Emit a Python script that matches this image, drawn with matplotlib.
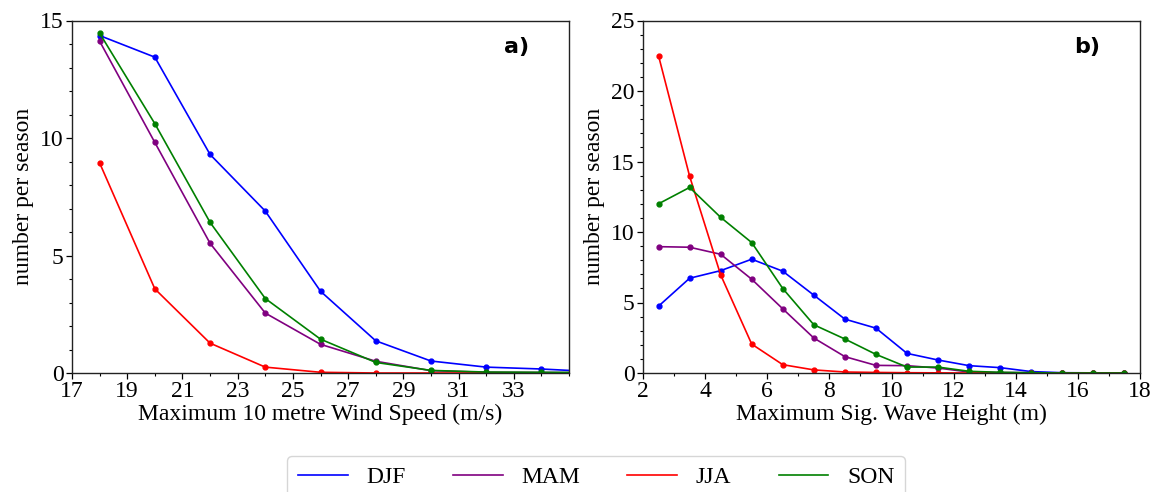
import numpy as np
import matplotlib
matplotlib.use("Agg")
import matplotlib.pyplot as plt
from matplotlib.ticker import MultipleLocator

# Panel a: maximum 10 m wind speed (m/s)
wind_x = [18, 20, 22, 24, 26, 28, 30, 32, 34, 36]
wind_djf = [14.36, 13.44, 9.30, 6.89, 3.48, 1.37, 0.51, 0.25, 0.17, 0.05]
wind_mam = [14.12, 9.81, 5.52, 2.55, 1.22, 0.50, 0.10, 0.03, 0.02, 0.01]
wind_jja = [8.94, 3.58, 1.27, 0.25, 0.03, 0.0, 0.0, 0.0, 0.0, 0.0]
wind_son = [14.46, 10.61, 6.41, 3.17, 1.44, 0.45, 0.11, 0.04, 0.03, 0.02]

# Panel b: maximum significant wave height (m)
wave_x = [2.5, 3.5, 4.5, 5.5, 6.5, 7.5, 8.5, 9.5, 10.5, 11.5, 12.5, 13.5, 14.5, 15.5, 16.5, 17.5]
wave_djf = [4.74, 6.72, 7.26, 8.07, 7.22, 5.52, 3.82, 3.18, 1.39, 0.92, 0.52, 0.38, 0.10, 0.02, 0.01, 0.01]
wave_mam = [8.96, 8.92, 8.42, 6.65, 4.55, 2.48, 1.16, 0.54, 0.52, 0.35, 0.07, 0.03, 0.02, 0.0, 0.0, 0.0]
wave_jja = [22.5, 13.96, 6.96, 2.05, 0.59, 0.22, 0.07, 0.04, 0.02, 0.01, 0.0, 0.0, 0.0, 0.0, 0.0, 0.0]
wave_son = [12.0, 13.16, 11.04, 9.25, 5.99, 3.42, 2.41, 1.32, 0.42, 0.42, 0.12, 0.05, 0.02, 0.0, 0.0, 0.0]

seasons = ["DJF", "MAM", "JJA", "SON"]
colors = ["#0000ff", "#800080", "#ff0000", "#008000"]

plt.rcParams["font.family"] = ["Liberation Serif", "DejaVu Serif"]
plt.rcParams["font.size"] = 17

fig = plt.figure(figsize=(11.51, 4.92), dpi=100)
ax_a = fig.add_axes([72 / 1151, 1 - 373 / 492, (569 - 72) / 1151, (373 - 20.5) / 492])
ax_b = fig.add_axes([643 / 1151, 1 - 373 / 492, (1140 - 643) / 1151, (373 - 20.5) / 492])

panels = [
    (ax_a, wind_x, [wind_djf, wind_mam, wind_jja, wind_son]),
    (ax_b, wave_x, [wave_djf, wave_mam, wave_jja, wave_son]),
]

for ax, xs, series in panels:
    for name, col, ys in zip(seasons, colors, series):
        ax.plot(xs, ys, color=col, linewidth=1.2, marker="o", markersize=3.5,
                label=name, clip_on=True)
    for sp in ax.spines.values():
        sp.set_linewidth(1.0)
        sp.set_color("#222222")
    ax.tick_params(which="major", direction="out", length=4, width=0.9,
                   labelsize=17, pad=2, top=False, right=False)
    ax.tick_params(which="minor", direction="out", length=2.5, width=0.8,
                   top=False, right=False)
    ax.set_ylabel("number per season", fontsize=17, labelpad=4)

ax_a.set_xlim(17, 35)
ax_a.set_ylim(0, 15)
ax_a.set_xticks(np.arange(17, 34, 2))
ax_a.xaxis.set_minor_locator(MultipleLocator(1))
ax_a.set_yticks([0, 5, 10, 15])
ax_a.yaxis.set_minor_locator(MultipleLocator(1))
ax_a.set_xlabel("Maximum 10 metre Wind Speed (m/s)", fontsize=17, labelpad=1)
ax_a.text(0.92, 0.925, "a)", transform=ax_a.transAxes, ha="right", va="center",
          fontsize=16, fontweight="bold", family="DejaVu Sans")

ax_b.set_xlim(2, 18)
ax_b.set_ylim(0, 25)
ax_b.set_xticks(np.arange(2, 19, 2))
ax_b.xaxis.set_minor_locator(MultipleLocator(1))
ax_b.set_yticks([0, 5, 10, 15, 20, 25])
ax_b.yaxis.set_minor_locator(MultipleLocator(1))
ax_b.set_xlabel("Maximum Sig. Wave Height (m)", fontsize=17, labelpad=1)
ax_b.text(0.92, 0.925, "b)", transform=ax_b.transAxes, ha="right", va="center",
          fontsize=16, fontweight="bold", family="DejaVu Sans")

handles = [plt.Line2D([], [], color=c, linewidth=1.2) for c in colors]
leg = fig.legend(handles, seasons, loc="upper center", bbox_to_anchor=(0.518, 1 - 456 / 492),
                 ncol=4, fontsize=17, frameon=True, fancybox=True, handlelength=2.1,
                 columnspacing=2.0, handletextpad=0.8, borderaxespad=0.0, borderpad=0.45)
leg.get_frame().set_edgecolor("#cccccc")
leg.get_frame().set_linewidth(1.0)

fig.savefig("out.png", dpi=100)
